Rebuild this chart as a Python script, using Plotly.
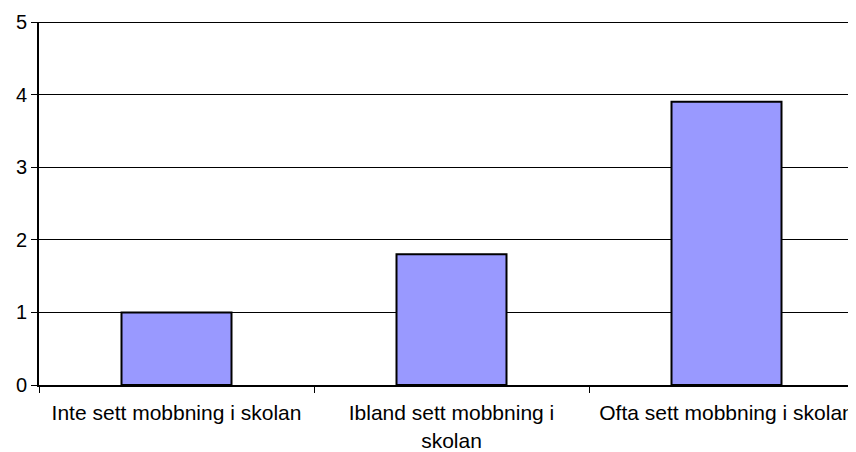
import plotly.graph_objects as go

categories = [
    "Inte sett mobbning i skolan",
    "Ibland sett mobbning i<br>skolan",
    "Ofta sett mobbning i skolan",
]
values = [1.0, 1.8, 3.9]

fig = go.Figure(
    go.Bar(
        x=categories,
        y=values,
        width=0.4,
        marker=dict(color="#9999FF", line=dict(color="#000000", width=2)),
    )
)

# top frame line of the plot area
fig.add_shape(
    type="line", xref="paper", yref="y", x0=0, x1=1, y0=5, y1=5,
    line=dict(color="#000000", width=2),
)

fig.update_layout(
    width=856,
    height=452,
    margin=dict(t=14, b=75, l=31, r=0),
    plot_bgcolor="white",
    paper_bgcolor="white",
    font=dict(family="Liberation Sans, Arial, sans-serif", size=20, color="#000000"),
    showlegend=False,
    xaxis=dict(
        range=[-0.5, 2.5],
        showline=True, linecolor="#000000", linewidth=2,
        ticks="outside", tickson="boundaries", ticklen=6, tickcolor="#000000",
        tickfont=dict(size=21), ticklabelstandoff=8,
        showgrid=False,
    ),
    yaxis=dict(
        range=[0, 5], dtick=1,
        showline=True, linecolor="#000000", linewidth=2,
        ticks="outside", ticklen=6, tickcolor="#000000",
        tickfont=dict(size=20),
        showgrid=True, gridcolor="#000000", gridwidth=1,
        zeroline=False,
    ),
)

fig.write_html("out.html")
